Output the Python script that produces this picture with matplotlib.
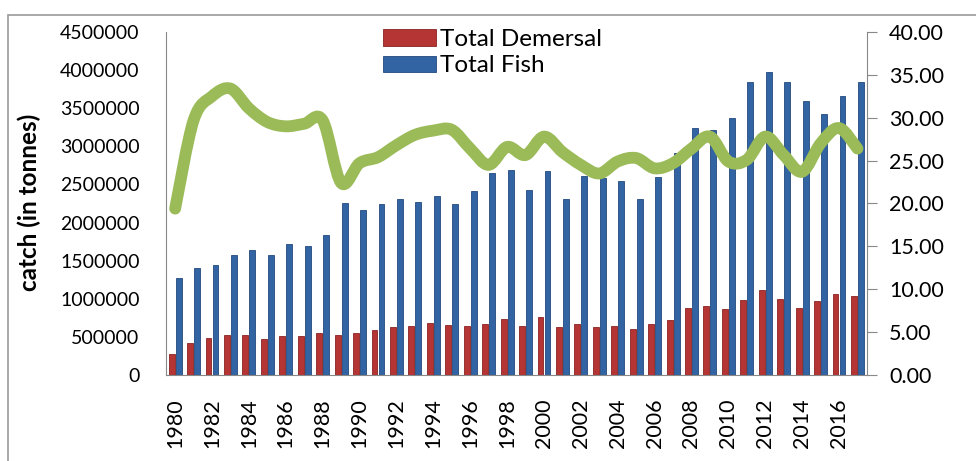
import numpy as np
import matplotlib
matplotlib.use("Agg")
import matplotlib.pyplot as plt
from matplotlib.path import Path
from matplotlib.patches import PathPatch, Rectangle

plt.rcParams['font.family'] = ['Lato', 'DejaVu Sans']

years = list(range(1980, 2018))

# catch in tonnes
total_demersal = [270000, 416000, 480000, 530000, 520000, 470000, 510000, 510000, 550000, 520000,
                  550000, 590000, 630000, 640000, 680000, 650000, 640000, 665000, 730000, 640000,
                  760000, 630000, 670000, 630000, 640000, 600000, 670000, 720000, 880000, 905000,
                  866000, 980000, 1115000, 1000000, 880000, 970000, 1060000, 1040000]
total_fish = [1269000, 1400000, 1440000, 1570000, 1640000, 1570000, 1715000, 1690000, 1830000, 2250000,
              2170000, 2240000, 2310000, 2270000, 2350000, 2240000, 2410000, 2650000, 2690000, 2430000,
              2670000, 2310000, 2610000, 2580000, 2550000, 2310000, 2600000, 2910000, 3240000, 3220000,
              3370000, 3840000, 3970000, 3850000, 3600000, 3430000, 3660000, 3850000]
# share of demersal (%), right axis
demersal_share = [19.4, 29.7, 32.5, 33.4, 31.1, 29.5, 29.0, 29.3, 29.7, 22.4,
                  24.7, 25.4, 26.8, 28.0, 28.5, 28.6, 26.4, 24.5, 26.6, 25.65,
                  27.8, 26.0, 24.5, 23.5, 24.9, 25.3, 24.1, 24.7, 26.4, 27.8,
                  24.9, 25.1, 27.8, 25.65, 23.7, 27.0, 28.8, 26.4]

left_ticks = list(range(0, 4500001, 500000))
right_ticks = [0, 5, 10, 15, 20, 25, 30, 35, 40]


def smoothPath(xs, ys):
    # bezier through the points, like excel's smoothed line
    pts = np.column_stack([xs, ys]).astype(float)
    verts = [pts[0]]
    codes = [Path.MOVETO]
    n = len(pts)
    for i in range(n - 1):
        p0 = pts[i - 1] if i > 0 else pts[i]
        p1 = pts[i]
        p2 = pts[i + 1]
        p3 = pts[i + 2] if i + 2 < n else pts[i + 1]
        c1 = p1 + (p2 - p0) / 6.0
        c2 = p2 - (p3 - p1) / 6.0
        verts += [c1, c2, p2]
        codes += [Path.CURVE4] * 3
    return Path(verts, codes)


fig = plt.figure(figsize=(9.76, 4.61), dpi=100)
ax = fig.add_axes([0.170, 0.1866, 0.718, 0.744])

x = np.arange(len(years))
w = 0.32
ax.bar(x - 0.19, total_demersal, width=w, color="#B53434", edgecolor="#8A2222", linewidth=0.6,
       label="Total Demersal", zorder=2)
ax.bar(x + 0.19, total_fish, width=w, color="#3263A2", edgecolor="#22497D", linewidth=0.6,
       label="Total Fish", zorder=2)

ax.set_xlim(-0.5, len(years) - 0.5)
ax.set_ylim(0, 4500000)
ax.set_yticks(left_ticks)
ax.set_yticklabels([str(v) for v in left_ticks])
ax.set_xticks(x[::2])
ax.set_xticklabels([str(y) for y in years[::2]], rotation=90)
ax.tick_params(axis="y", length=0, pad=19, labelsize=14)
ax.tick_params(axis="x", length=0, pad=17, labelsize=15.5)

for s in ["top", "right"]:
    ax.spines[s].set_visible(False)
ax.spines["left"].set_color("#888888")
ax.spines["bottom"].set_color("#888888")

ax.set_ylabel("catch (in tonnes)", fontsize=17.5, fontweight="bold")
ax.yaxis.set_label_coords(-0.178, 0.504)

ax2 = ax.twinx()
ax2.set_ylim(0, 40)
ax2.set_yticks(right_ticks)
ax2.set_yticklabels([f"{v:.2f}" for v in right_ticks])
ax2.tick_params(axis="y", length=7, pad=9, labelsize=15.5, color="#888888")
for s in ["top", "left", "bottom"]:
    ax2.spines[s].set_visible(False)
ax2.spines["right"].set_color("#888888")

line = PathPatch(smoothPath(x, demersal_share), facecolor="none", edgecolor="#9BBB59",
                 linewidth=8.5, capstyle="round", joinstyle="round", zorder=3)
ax2.add_patch(line)

leg = ax.legend(loc="upper left", bbox_to_anchor=(383 / 976, 1 - 29 / 461),
                bbox_transform=fig.transFigure, frameon=False, fontsize=17.5,
                handlelength=2.2, handleheight=0.65, handletextpad=0.15,
                labelspacing=0.22, borderpad=0, borderaxespad=0)

# outer chart border
fig.patches.append(Rectangle((8 / 976, -0.1), 1.2, 1 - 15 / 461 + 0.1, transform=fig.transFigure,
                             fill=False, edgecolor="#999999", linewidth=1.2))

fig.savefig("out.png", dpi=100)
